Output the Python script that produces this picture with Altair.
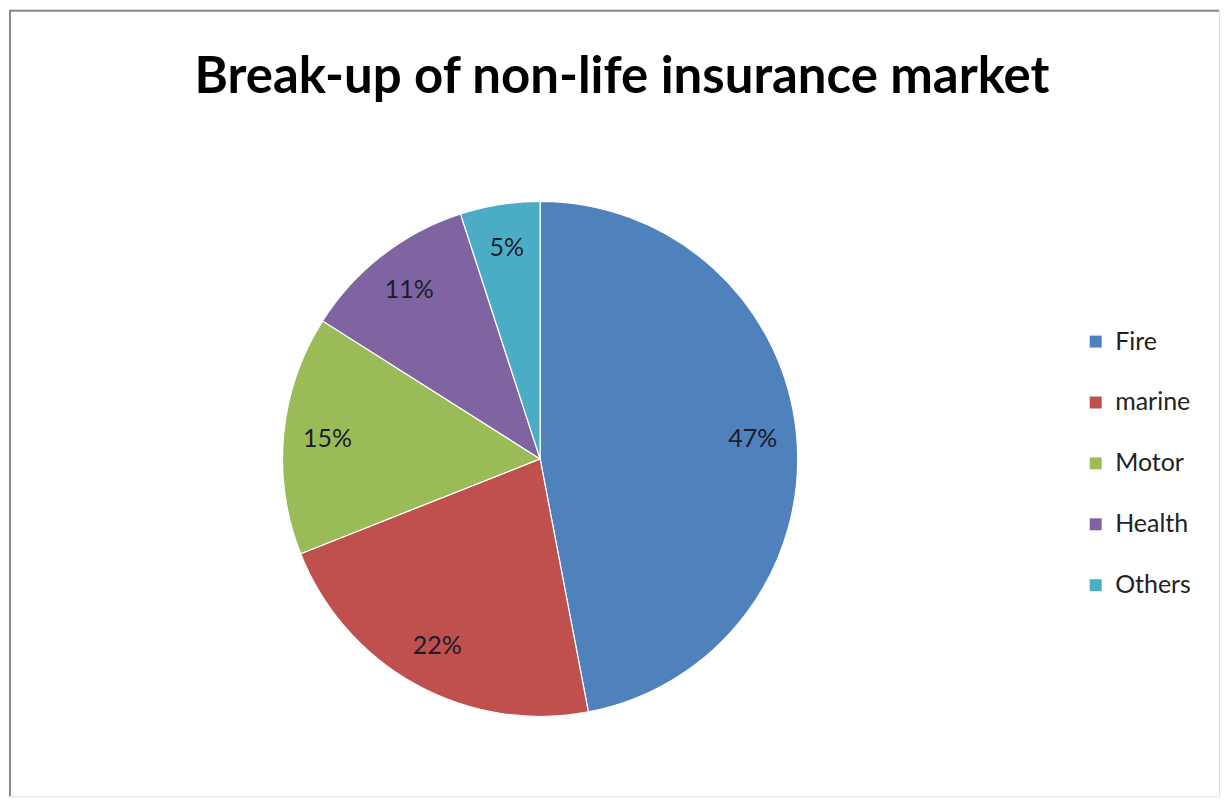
import altair as alt
import pandas as pd

categories = ["Fire", "marine", "Motor", "Health", "Others"]
shares = [47, 22, 15, 11, 5]
colors = ["#4F81BD", "#C0504D", "#9BBB59", "#8064A2", "#4BACC6"]
labels = ["47%", "22%", "15%", "11%", "5%"]

df = pd.DataFrame({"cat": categories, "share": shares, "label": labels,
                   "ord": list(range(len(categories)))})

W, H = 1212, 788
CX, CY = 532, 450

base = alt.Chart(df).encode(
    theta=alt.Theta("share:Q", stack=True),
    order=alt.Order("ord:Q"),
)

pie = base.mark_arc(outerRadius=258, stroke="white", strokeWidth=1.2).encode(
    color=alt.Color("cat:N", scale=alt.Scale(domain=categories, range=colors),
                    legend=alt.Legend(title=None, orient="none", legendX=1076, legendY=320,
                                      symbolType="square", symbolSize=144,
                                      labelFontSize=25, labelFont="Lato", labelColor="#222222",
                                      rowPadding=35, labelOffset=7, symbolStrokeWidth=0)),
    x=alt.value(CX), y=alt.value(CY),
)

txt = base.mark_text(radius=214, font="Lato", fontSize=25, color="#1c1c2c").encode(
    text="label:N", x=alt.value(CX), y=alt.value(CY),
)

title = alt.Chart(pd.DataFrame({"t": ["Break-up of non-life insurance market"]})).mark_text(
    font="Lato", fontWeight="bold", fontSize=51, color="#000000", baseline="alphabetic"
).encode(text="t:N", x=alt.value(614), y=alt.value(83))

border_top = alt.Chart(pd.DataFrame({"b": [0]})).mark_rule(color="#8a8a8a", strokeWidth=2).encode(
    x=alt.value(0), x2=alt.value(W), y=alt.value(1))
border_left = alt.Chart(pd.DataFrame({"b": [0]})).mark_rule(color="#8a8a8a", strokeWidth=2).encode(
    x=alt.value(1), y=alt.value(0), y2=alt.value(H))

chart = alt.layer(border_top, border_left, pie, txt, title).properties(
    width=W, height=H, padding=0
).configure_view(stroke=None).configure(background="white")

chart.save("out.html", embed_options={"renderer": "svg", "actions": False})
